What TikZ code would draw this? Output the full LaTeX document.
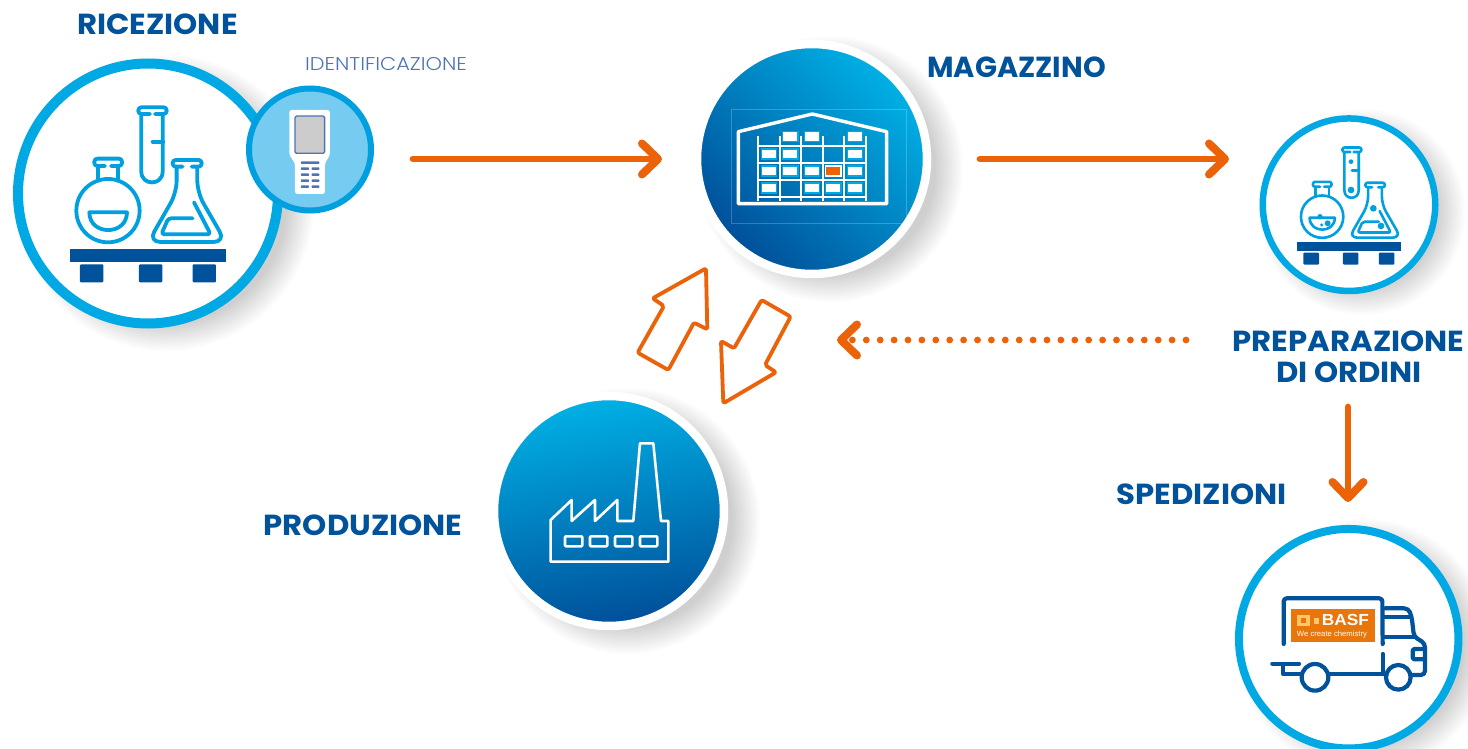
\documentclass[tikz,border=0pt]{standalone}
\usepackage{fontspec}
\usepackage{graphicx}
\setmainfont{Poppins}
\newfontfamily\headfont{Poppins}[BoldFeatures={FakeStretch=1.06}]
\newfontfamily\thinfont{Poppins Light}[FakeStretch=1.13]
\newfontfamily\logofont{Liberation Sans}[BoldFeatures={FakeStretch=1.08}]
\usetikzlibrary{arrows.meta}
\definecolor{ringcyan}{HTML}{00A9E4}
\definecolor{ringdeep}{HTML}{009FDF}
\definecolor{paleblue}{HTML}{75CBF0}
\definecolor{navy}{HTML}{00529B}
\definecolor{gradtop}{HTML}{00B1E6}
\definecolor{graddark}{HTML}{004F99}
\definecolor{flow}{HTML}{EC6209}
\definecolor{idtext}{HTML}{4F74B5}
\definecolor{logoorange}{HTML}{E8760A}
\definecolor{logopale}{HTML}{FFC766}
\tikzset{
  heading/.style={font=\headfont\fontsize{29}{30}\selectfont\bfseries, text=navy, anchor=base, inner sep=0pt},
  ringnode/.style={circle, draw=ringcyan, fill=white, inner sep=0pt, line width=#1},
  gradnode/.style={circle, draw=white, line width=8.5pt, inner sep=0pt, minimum size=230pt},
  flowline/.style={draw=flow, line width=6.8pt, line cap=round, -{Straight Barb[length=16pt,width=31pt,line width=8pt,round]}},
  blockarrow/.style={draw=flow, fill=white, line width=3.8pt, line join=round, rounded corners=2pt},
  whiteline/.style={draw=white, line width=2.6pt, line join=round},
  shelfbox/.style={draw=ringcyan, fill=white, line width=1.2pt, minimum width=15.5pt, minimum height=10pt, inner sep=0pt},
  truckline/.style={draw=navy, line width=4.2pt, line cap=round, line join=round},
}
\newcommand{\softshadow}[3]{%
  \foreach \sh in {0,...,15}{
    \fill[black, opacity=0.0105] (#1,#2) circle[radius={#3+\sh*1.8-14}];
  }}
% flask group, drawn in the coordinates of a 3x view of the first icon
\newcommand{\flaskicon}[4]{%
  \begin{scope}[#1]
    \begin{scope}[draw=ringdeep, line width=#2, line cap=round, line join=round]
      % test tube
      \draw[rounded corners=#3] (450,342)--(415,342)--(415,322)--(500,322)--(500,342)--(465,342);
      \draw (424,345)--(424,515) .. controls (424,558) and (488,558) .. (488,515) -- (488,345);
      \draw (458,425)--(490,425);
      % round flask
      \draw[rounded corners=#3] (315,498)--(283,498)--(283,476)--(366,476)--(366,498)--(333,498);
      \draw (293,500)--(293,542);
      \draw (355,500)--(355,542);
      \draw (324,632) circle[radius=95];
      \draw (268,637) .. controls (268,708) and (381,708) .. (381,637) -- cycle;
      % conical flask
      \draw[rounded corners=#3] (548,500)--(518,500)--(518,480)--(605,480)--(605,500)--(575,500);
      \draw[rounded corners=#4] (530,502)--(530,578)--(445,726)--(677,726)--(592,578)--(592,502);
      \draw[rounded corners=#3] (578,655)--(505,655)--(484,703)--(632,703)--(582,607);
    \end{scope}
    \fill[navy] (210,747) rectangle (678,786);
    \fill[navy, rounded corners=1pt] (240,793) rectangle (310,847);
    \fill[navy, rounded corners=1pt] (417,793) rectangle (487,847);
    \fill[navy, rounded corners=1pt] (578,793) rectangle (648,847);
  \end{scope}}
\begin{document}
\begin{tikzpicture}[x=1pt,y=-1pt]
\clip (0,0) rectangle (1468,749);
\fill[white] (0,0) rectangle (1468,749);

% soft shadows
\softshadow{166}{203}{135}
\softshadow{830}{169}{120}
\softshadow{627}{521}{120}
\softshadow{1362}{212}{90}
\softshadow{1364}{646}{114}

% station circles
\node[ringnode=10pt, minimum size=260pt] (ricezione) at (148,193.5) {};
\node[circle, draw=ringdeep, fill=paleblue, line width=6pt, inner sep=0pt, minimum size=122pt] (lettore) at (310,149.5) {};
\node[gradnode, top color=gradtop, bottom color=graddark, shading angle=-45] (magazzino) at (812,159) {};
\node[gradnode, top color=gradtop, bottom color=graddark, shading angle=10] (produzione) at (609,511) {};
\node[ringnode=6.5pt, minimum size=172.5pt] (preparazione) at (1349,204.7) {};
\node[ringnode=8pt, minimum size=219.5pt] (spedizioni) at (1348.7,638.7) {};

% flasks
\flaskicon{scale=0.3333}{3.8pt}{3pt}{12pt}
\flaskicon{shift={(1249.87,75.72)},scale=0.223}{2.6pt}{2pt}{8pt}
\begin{scope}[shift={(1250,110)},scale=0.3333]
  \fill[ringdeep] (303,155) circle[radius=7];
  \fill[ringdeep] (303,240) circle[radius=10];
  \fill[ringdeep] (210,320) circle[radius=8];
  \fill[ringdeep] (215,345) circle[radius=5];
  \fill[ringdeep] (233,340) circle[radius=9];
  \fill[ringdeep] (370,295) circle[radius=10];
  \fill[ringdeep] (393,348) circle[radius=10];
\end{scope}

% handheld reader
\begin{scope}[shift={(0,0)},scale=0.3333]
  \fill[white, rounded corners=2.5pt] (868,330)--(990,330)--(990,465)--(975,490)--(975,582)--(885,582)--(885,490)--(868,465)--cycle;
  \draw[draw=idtext, fill=black!20!white, line width=1.3pt, rounded corners=1.5pt] (885,348) rectangle (974,460);
  \fill[idtext, rounded corners=.7pt] (903,484) rectangle (958,492);
  \foreach \ky in {502,520,538,556}{
    \fill[idtext, rounded corners=.7pt] (903,\ky) rectangle (927,\ky+8);
    \fill[idtext, rounded corners=.7pt] (935,\ky) rectangle (958,\ky+8);
  }
\end{scope}

% warehouse
\begin{scope}[shift={(690,40)},scale=0.3333]
  \draw[white, opacity=.22, line width=.8pt] (124,208) rectangle (648,550);
  \draw[white, line width=3.4pt, line join=round] (145,491)--(145,275)--(367,222)--(590,275)--(590,491)--cycle;
  \foreach \sx in {205,269,333,398,463,527}{
    \draw[white, line width=2.2pt] (\sx,288)--(\sx,482);
  }
  \foreach \sy in {318,368,419,470}{
    \draw[white, line width=2.2pt] (205,\sy)--(527,\sy);
  }
  \foreach \bx/\by in {301/290,366/290,495/290, 237/342,301/342,495/342, 237/393,301/393,366/393,495/393, 237/444,366/444,430/444,495/444}{
    \node[shelfbox] at (\bx,\by) {};
  }
  \node[shelfbox, draw=white, fill=flow] at (430,393) {};
\end{scope}

% factory
\begin{scope}[shift={(490,260)},scale=0.3333]
  \draw[whiteline] (182,905)--(182,780)--(245,720)--(245,783)--(315,720)--(315,783)--(382,720)--(382,783)--(430,783)--(450,550)--(490,550)--(513,783)--(535,783)--(535,905)--cycle;
  \foreach \wx in {225,300,375,450}{
    \draw[whiteline, rounded corners=1pt] (\wx,829) rectangle (\wx+52,859);
  }
\end{scope}

% truck
\begin{scope}[shift={(1230,500)},scale=0.3333]
  \draw[truckline, rounded corners=3pt] (161,432)--(161,295)--(457,295)--(458,432);
  \draw[truckline] (458,462)--(458,522);
  \draw[truckline] (300,522)--(470,522);
  \draw[truckline, fill=white] (255,532) circle[radius=40];
  \draw[truckline, fill=white] (505,532) circle[radius=37];
  \draw[truckline, rounded corners=4pt] (465,325)--(535,325)--(545,350)--(552,410)--(585,430)--(585,525)--(545,525);
  \draw[truckline] (465,350)--(540,350);
  \draw[truckline] (465,410)--(552,410);
  \draw[truckline, rounded corners=2pt] (585,447)--(548,447)--(548,478)--(585,478);
  \draw[truckline] (127,491)--(207,491);
  \draw[truckline] (160,497)--(160,522)--(210,522);
  \fill[logoorange] (183,327) rectangle (435,425);
  \fill[logopale] (202,345) rectangle (240,378);
  \fill[logoorange] (213,354) rectangle (229,369);
  \fill[logopale] (252,355) rectangle (268,372);
  \node[inner sep=0pt, anchor=base, text=white, font=\logofont\fontsize{16}{16}\selectfont\bfseries] (basf) at (346,378) {BASF};
  \node[inner sep=0pt, anchor=base, text=white, font=\logofont\fontsize{7.7}{9}\selectfont] (motto) at (306,410) {We create chemistry};
\end{scope}

% labels
\node[heading] (t1) at (157.5,34.5) {RICEZIONE};
\node[inner sep=0pt, anchor=base, text=idtext, font=\thinfont\fontsize{18.5}{20}\selectfont] (t2) at (386,71) {IDENTIFICAZIONE};
\node[heading] (t3) at (1016.5,78) {\scalebox{.94}[1]{MAGAZZINO}};
\node[heading] (t4) at (1348.5,351) {PREPARAZIONE};
\node[heading] (t5) at (1349,382) {DI ORDINI};
\node[heading] (t6) at (1201.5,504.5) {SPEDIZIONI};
\node[heading] (t7) at (363,535) {PRODUZIONE};

% connectors
\coordinate (a1s) at (413,159);
\coordinate (a1e) at (662,159);
\coordinate (a2s) at (980,159);
\coordinate (a2e) at (1229,159);
\coordinate (a3s) at (1186,340);
\coordinate (a3e) at (837,340);
\coordinate (a4s) at (1348,407);
\coordinate (a4e) at (1348,502);
\draw[flowline] (a1s) -- (a1e);
\draw[flowline] (a2s) -- (a2e);
\draw[flowline, dash pattern=on 0pt off 13.9pt] (a3s) -- (a3e);
\draw[flowline] (a4s) -- (a4e);

% exchange arrows between stock and production
\begin{scope}[shift={(490,260)},scale=0.3333]
  \draw[blockarrow] (648,25)--(652,208)--(612,188)--(535,330)--(443,278)--(522,138)--(488,115)--cycle;
  \draw[blockarrow] (815,120)--(902,170)--(825,315)--(858,337)--(700,430)--(693,243)--(732,265)--cycle;
\end{scope}
\end{tikzpicture}
\end{document}
